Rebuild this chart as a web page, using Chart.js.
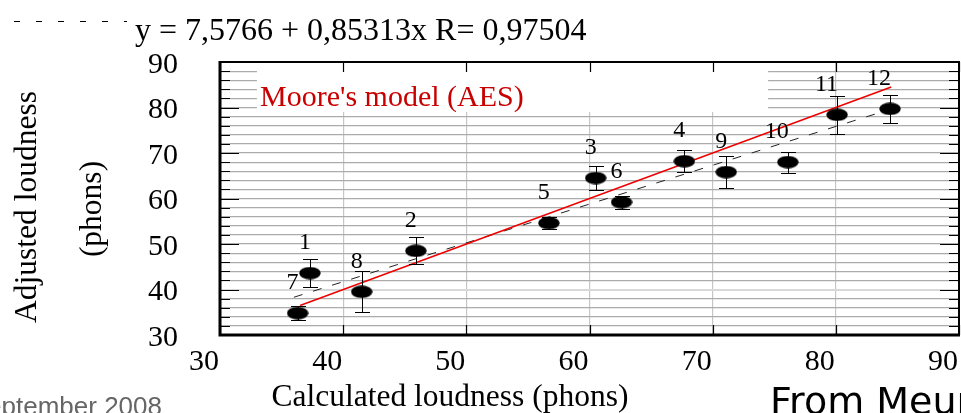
<!DOCTYPE html>
<html><head><meta charset="utf-8">
<script src="https://cdn.jsdelivr.net/npm/chart.js@4/dist/chart.umd.min.js"></script>
<style>html,body{margin:0;padding:0;background:#fff;overflow:hidden}#wrap{width:961px;height:413px;position:relative}</style>
</head><body><div id="wrap"><canvas id="c" width="961" height="413"></canvas></div>
<script>
// ---- data ----
const pointLabels = ['1','2','3','4','5','6','7','8','9','10','11','12'];
const calculatedLoudness = [37.3,45.9,60.5,67.7,56.7,62.6,36.3,41.5,71.1,76.1,80.1,84.4];
const adjustedLoudness   = [43.6,48.5,64.5,68.2,54.6,59.2,34.8,39.5,65.8,68.0,78.4,79.7];
const adjustedError      = [3.1,3.0,2.7,2.4,1.3,1.4,1.5,4.5,3.5,2.3,4.2,3.0];
const mooreX = [36.5,84.5];
const mooreY = [36.5,84.5];
const fitX = [36,85];
const fitY = [38.3,80.1];
const xTicks = [30,40,50,60,70,80,90];
const yTicks = [30,40,50,60,70,80,90];
const yMinorStep = 2;
const fitLabel = 'y = 7,5766 + 0,85313x R= 0,97504';
const mooreLabel = "Moore's model (AES)";
const xTitle = 'Calculated loudness (phons)';
const yTitle = ['Adjusted loudness','(phons)'];
const footLeft = 'September 2008';
const footRight = 'From Meunier';

const SERIF = '"Liberation Serif", "Times New Roman", serif';
const PLOT = {left:220, right:959, top:62, bottom:335};

function ellipseCanvas(w,h){
  const c=document.createElement('canvas');c.width=w;c.height=h;
  const g=c.getContext('2d');g.fillStyle='#000';g.beginPath();
  g.ellipse(w/2,h/2,w/2-0.3,h/2-0.3,0,0,Math.PI*2);g.fill();return c;
}
const marker = ellipseCanvas(22,13);

const decor = {
  id:'decor',
  beforeDatasetsDraw(chart){
    const {ctx, scales:{x,y}} = chart;
    ctx.save();
    ctx.fillStyle='#fff';
    const x0=x.getPixelForValue(33), x1=x.getPixelForValue(74.5);
    const y0=y.getPixelForValue(90)+1, y1=y.getPixelForValue(79);
    ctx.fillRect(x0,y0,x1-x0,y1-y0);
    ctx.restore();
  },
  afterDatasetsDraw(chart){
    const {ctx, scales:{x,y}} = chart;
    const meta = chart.getDatasetMeta(2);
    ctx.save();
    ctx.strokeStyle='#000';ctx.lineWidth=1;
    meta.data.forEach((pt,i)=>{
      const px=Math.round(pt.x)+0.5;
      const yt=Math.round(y.getPixelForValue(adjustedLoudness[i]+adjustedError[i]))+0.5;
      const yb=Math.round(y.getPixelForValue(adjustedLoudness[i]-adjustedError[i]))+0.5;
      ctx.beginPath();
      ctx.moveTo(px,yt);ctx.lineTo(px,yb);
      ctx.moveTo(px-7.5,yt);ctx.lineTo(px+7.5,yt);
      ctx.moveTo(px-7.5,yb);ctx.lineTo(px+7.5,yb);
      ctx.stroke();
    });
    ctx.fillStyle='#000';ctx.font='24px '+SERIF;ctx.textAlign='right';ctx.textBaseline='alphabetic';
    meta.data.forEach((pt,i)=>{ ctx.fillText(pointLabels[i], pt.x+1, pt.y-24); });
    ctx.restore();
  },
  afterDraw(chart){
    const {ctx, chartArea:a, scales:{x,y}} = chart;
    ctx.save();
    ctx.strokeStyle='#000';
    ctx.lineWidth=2;
    ctx.beginPath();ctx.moveTo(a.left,a.top);ctx.lineTo(a.right,a.top);ctx.lineTo(a.right,a.bottom);ctx.stroke();
    ctx.lineWidth=3;
    ctx.beginPath();ctx.moveTo(a.left,a.top-1);ctx.lineTo(a.left,a.bottom);ctx.lineTo(a.right+1,a.bottom);ctx.stroke();
    ctx.lineWidth=1.2;
    ctx.beginPath();
    for(let v=y.min; v<=y.max; v+=yMinorStep){
      const py=Math.round(y.getPixelForValue(v))+0.5;
      const len = yTicks.includes(v)?19:10;
      ctx.moveTo(a.left,py);ctx.lineTo(a.left+len,py);
      ctx.moveTo(a.right,py);ctx.lineTo(a.right-len,py);
    }
    xTicks.forEach(v=>{
      const px=Math.round(x.getPixelForValue(v))+0.5;
      ctx.moveTo(px,a.bottom);ctx.lineTo(px,a.bottom-10);
      ctx.moveTo(px,a.top);ctx.lineTo(px,a.top+10);
    });
    ctx.stroke();
    ctx.strokeStyle='#000';ctx.lineWidth=1;ctx.setLineDash([6,16]);
    ctx.beginPath();ctx.moveTo(14,21.5);ctx.lineTo(127,21.5);ctx.stroke();
    ctx.setLineDash([]);
    ctx.fillStyle='#000';ctx.font='32px '+SERIF;ctx.textAlign='left';ctx.textBaseline='alphabetic';
    ctx.fillText(fitLabel,135,40);
    ctx.fillStyle='#c80000';ctx.font='30px '+SERIF;
    ctx.fillText(mooreLabel,260,106);
    ctx.fillStyle='#000';ctx.font='31.5px '+SERIF;ctx.textAlign='center';
    ctx.fillText(xTitle,450,406);
    ctx.save();
    ctx.translate(36,207);ctx.rotate(-Math.PI/2);
    ctx.fillText(yTitle[0],0,0);
    ctx.restore();
    ctx.save();
    ctx.translate(101,209);ctx.rotate(-Math.PI/2);
    ctx.fillText(yTitle[1],0,0);
    ctx.restore();
    ctx.fillStyle='#666';ctx.font='26px "Liberation Sans", Arial, sans-serif';ctx.textAlign='right';
    ctx.fillText(footLeft,162,415);
    ctx.fillStyle='#000';ctx.font='38px "DejaVu Sans", sans-serif';ctx.textAlign='left';
    ctx.fillText(footRight,770,414);
    ctx.restore();
  }
};

// force the plot rectangle to the reference frame after Chart.js layout
const fixArea = {
  id:'fixArea',
  afterLayout(chart){
    const a = chart.chartArea, x = chart.scales.x, y = chart.scales.y;
    a.left = PLOT.left; a.right = PLOT.right; a.top = PLOT.top; a.bottom = PLOT.bottom;
    a.width = a.right - a.left; a.height = a.bottom - a.top;
    x.left = a.left; x.right = a.right; x.width = a.width; x.top = a.bottom; x.bottom = chart.height; x.height = x.bottom - x.top;
    y.left = 0; y.right = a.left; y.width = a.left; y.top = a.top; y.bottom = a.bottom; y.height = a.height;
    x.configure(); y.configure();
    x._gridLineItems = null; x._labelItems = null; y._gridLineItems = null; y._labelItems = null;
    x._labelSizes = null;
  }
};

new Chart(document.getElementById('c'),{
  type:'scatter',
  data:{
    datasets:[
      {type:'line',label:'Moore',data:mooreX.map((v,i)=>({x:v,y:mooreY[i]})),borderColor:'#ee0000',borderWidth:1.5,pointRadius:0,fill:false,order:2},
      {type:'line',label:'fit',data:fitX.map((v,i)=>({x:v,y:fitY[i]})),borderColor:'#222',borderWidth:1,borderDash:[9,11],pointRadius:0,fill:false,order:3},
      {label:'adjusted',data:calculatedLoudness.map((v,i)=>({x:v,y:adjustedLoudness[i]})),pointStyle:marker,pointRadius:6,backgroundColor:'#000',borderColor:'#000',order:1}
    ]
  },
  options:{
    responsive:false,animation:false,devicePixelRatio:1,
    layout:{padding:{top:62,right:2,left:0,bottom:0}},
    plugins:{legend:{display:false},tooltip:{enabled:false}},
    scales:{
      x:{type:'linear',min:30,max:90,
        afterBuildTicks:s=>{s.ticks=xTicks.map(v=>({value:v}));},
        afterFit:s=>{s.height=78;s.paddingLeft=0;s.paddingRight=0;},
        ticks:{font:{family:SERIF,size:30},color:'#000',labelOffset:-16,padding:9,maxRotation:0,autoSkip:false},
        grid:{color:'#c6c6c6',lineWidth:1.2,drawTicks:false},
        border:{display:false}
      },
      y:{type:'linear',min:30,max:90,
        afterBuildTicks:s=>{const t=[];for(let v=30;v<=90;v+=yMinorStep)t.push({value:v});s.ticks=t;},
        afterFit:s=>{s.width=220;s.paddingTop=0;s.paddingBottom=0;},
        ticks:{font:{family:SERIF,size:30},color:'#000',labelOffset:3,padding:42,autoSkip:false,
          callback:v=>yTicks.includes(v)?String(v):''},
        grid:{color:c=>c.tick&&c.tick.value===40?'#d8d8d8':'#ababab',lineWidth:c=>c.tick&&c.tick.value===40?2:1.2,drawTicks:false},
        border:{display:false}
      }
    }
  },
  plugins:[fixArea, decor]
});
</script></body></html>
